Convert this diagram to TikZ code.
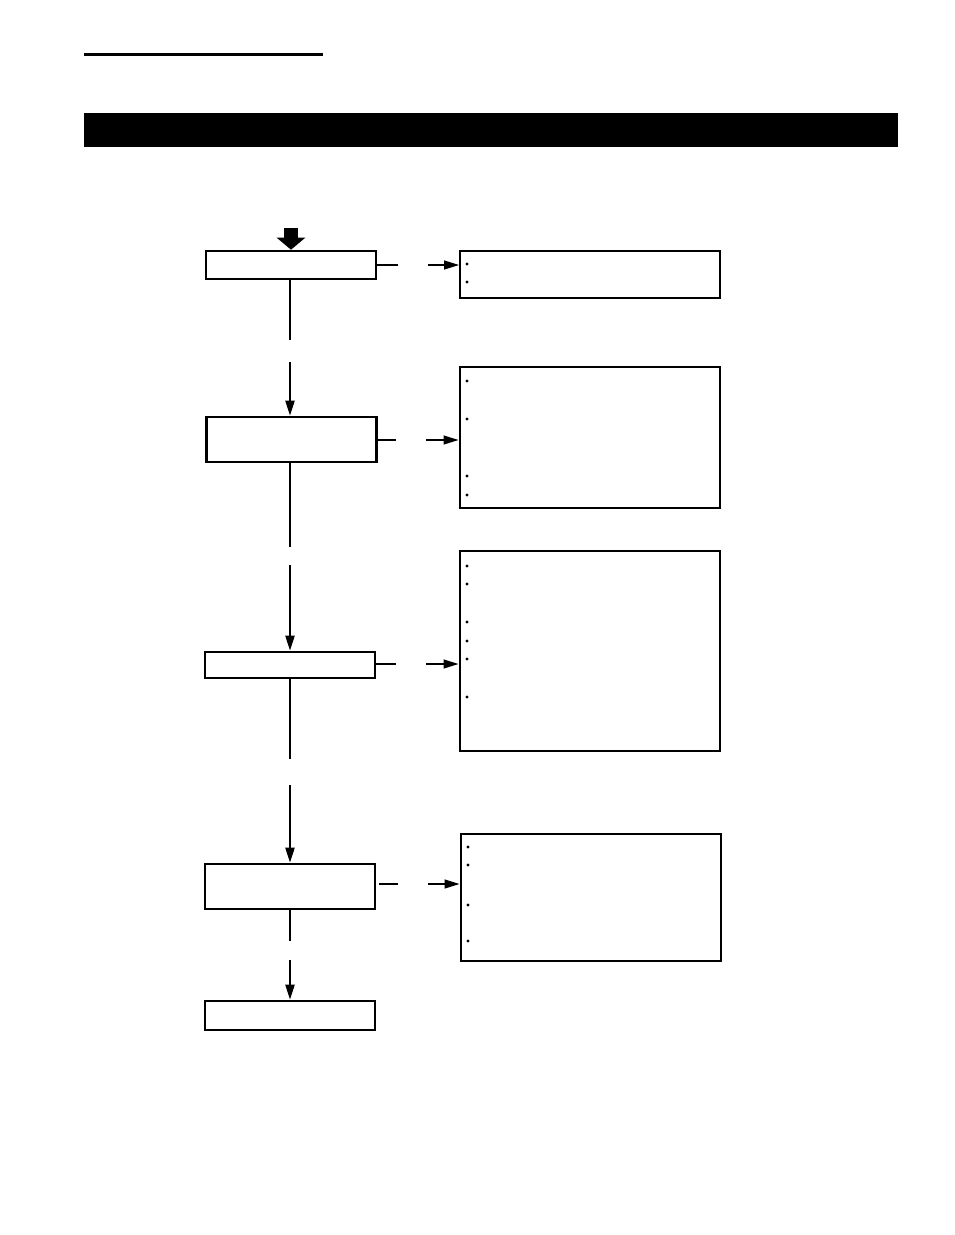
\documentclass[tikz,border=0pt]{standalone}
\usepackage{tikz}
\usetikzlibrary{positioning, arrows.meta}

\tikzset{
  stepbox/.style={draw, line width=2.6pt, minimum width=170pt, inner sep=0pt},
  notebox/.style={draw, line width=2pt, minimum width=260pt, inner sep=0pt},
  flow/.style={line width=2.2pt},
  feed/.style={line width=1.2pt},
  tip/.style={-{Triangle[length=15pt, width=9pt]}},
  dot/.style={circle, fill, inner sep=0pt, minimum size=3.4pt},
}

\begin{document}
\begin{tikzpicture}[x=1pt, y=-1pt]
\useasboundingbox (0,0) rectangle (954,1235);

% heading
\draw[line width=2.8pt] (84,54.5) -- (323,54.5);
\fill (84,113) rectangle (898,147);

% steps
\node[stepbox, minimum height=28pt] (load) at (291,265) {};
\node[stepbox, minimum height=45pt] (check) at (291.5,439.5) {};
\node[stepbox, minimum height=26pt] (adjust) at (290,665) {};
\node[stepbox, minimum height=45pt] (test) at (290,886.5) {};
\node[stepbox, minimum height=29pt] (finish) at (290,1015.5) {};

% notes
\node[notebox, minimum height=47pt] (noteA) at (590,274) {};
\node[notebox, minimum height=141pt] (noteB) at (589.5,437) {};
\node[notebox, minimum height=200pt] (noteC) at (589.5,650.5) {};
\node[notebox, minimum height=127pt] (noteD) at (590.5,897) {};

\foreach \y [count=\i] in {264,282} \node[dot] (dA\i) at (467,\y) {};
\foreach \y [count=\i] in {381,419,476,495} \node[dot] (dB\i) at (467,\y) {};
\foreach \y [count=\i] in {566,584,622,641,659,697} \node[dot] (dC\i) at (467,\y) {};
\foreach \y [count=\i] in {847,865,905,941} \node[dot] (dD\i) at (468,\y) {};

% entry
\coordinate (start) at (291,228);
\draw[line width=14pt, -{Triangle[length=12pt, width=28pt]}] (start) -- (load.north);

% main flow, broken lines
\coordinate (v1) at (290,340); \coordinate (v2) at (290,362);
\coordinate (v3) at (290,547); \coordinate (v4) at (290,565);
\coordinate (v5) at (290,759); \coordinate (v6) at (290,785);
\coordinate (v7) at (290,941); \coordinate (v8) at (290,960);
\draw[flow] (load.south -| v1) -- (v1);
\draw[flow, tip] (v2) -- (check.north -| v2);
\draw[flow] (check.south -| v3) -- (v3);
\draw[flow, tip] (v4) -- (adjust.north);
\draw[flow] (adjust.south) -- (v5);
\draw[flow, tip] (v6) -- (test.north);
\draw[flow] (test.south) -- (v7);
\draw[flow, tip] (v8) -- (finish.north);

% side notes
\coordinate (h1) at (398,265); \coordinate (h2) at (428,265);
\coordinate (h3) at (396,440); \coordinate (h4) at (426,440);
\coordinate (h5) at (396,664); \coordinate (h6) at (426,664);
\coordinate (h7) at (398,884); \coordinate (h8) at (428,884);
\draw[feed] (load.east |- h1) -- (h1);
\draw[feed, tip] (h2) -- (h2 -| noteA.west);
\draw[feed] (check.east |- h3) -- (h3);
\draw[feed, tip] (h4) -- (h4 -| noteB.west);
\draw[feed] (adjust.east |- h5) -- (h5);
\draw[feed, tip] (h6) -- (h6 -| noteC.west);
\draw[feed] ([xshift=3pt]test.east |- h7) -- (h7);
\draw[feed, tip] (h8) -- (h8 -| noteD.west);
\end{tikzpicture}
\end{document}
